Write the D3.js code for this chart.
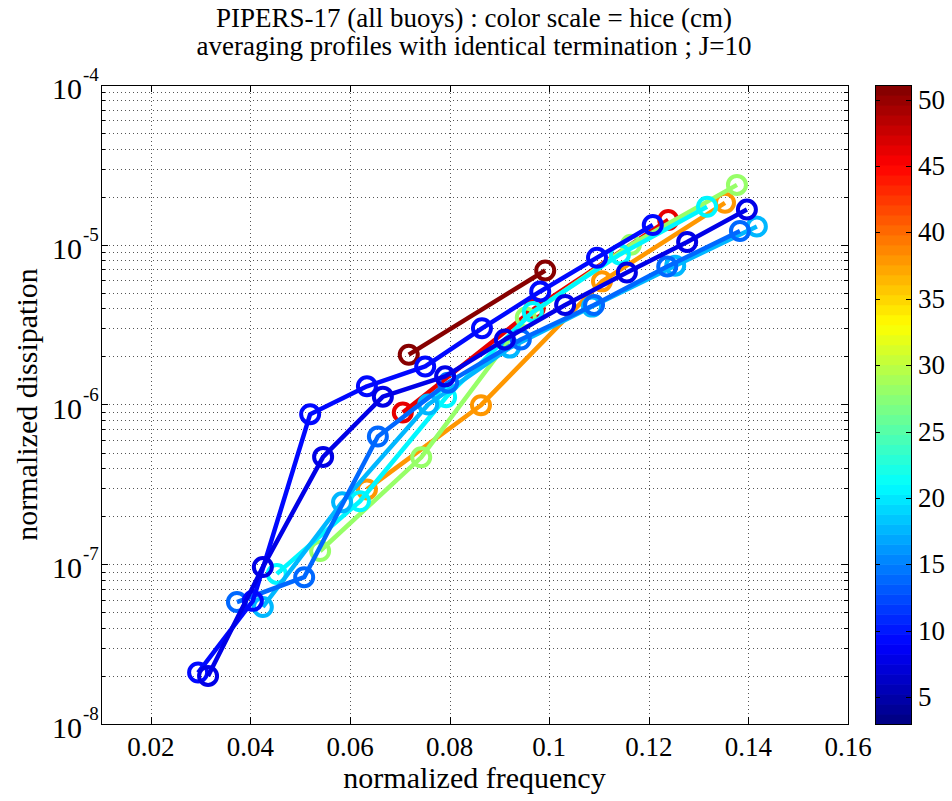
<!DOCTYPE html>
<html>
<head>
<meta charset="utf-8">
<script src="https://cdn.jsdelivr.net/npm/d3@7.9.0/dist/d3.min.js"></script>
<style>
  body { margin: 0; background: #fff; }
  text { font-family: "Liberation Serif", "DejaVu Serif", serif; fill: #000; }
</style>
</head>
<body>
<svg id="chart" width="952" height="801"></svg>
<script>
// hice (cm) of each averaged profile
const hice = [17.5, 14, 20.5, 28, 38, 46, 50.5, 9, 7.5];

// normalized frequency per profile
const freq = [
  [0.0425, 0.0584, 0.0757, 0.0921, 0.1086, 0.1253, 0.1417],
  [0.0373, 0.0508, 0.0656, 0.0797, 0.0943, 0.1090, 0.1237, 0.1383],
  [0.0453, 0.0620, 0.0793, 0.0967, 0.1142, 0.1317],
  [0.0540, 0.0743, 0.0953, 0.1164, 0.1377],
  [0.0634, 0.0863, 0.1106, 0.1353],
  [0.0706, 0.0971, 0.1239],
  [0.0718, 0.0992],
  [0.0295, 0.0405, 0.0520, 0.0634, 0.0751, 0.0865, 0.0982, 0.1096, 0.1208],
  [0.0315, 0.0425, 0.0546, 0.0666, 0.0791, 0.0911, 0.1032, 0.1156, 0.1277, 0.1397]
];

// normalized dissipation per profile
const diss = [
  [5.4e-8, 2.44e-7, 1.0e-6, 2.27e-6, 4.1e-6, 7.4e-6, 1.3e-5],
  [5.8e-8, 8.3e-8, 6.3e-7, 1.37e-6, 2.55e-6, 4.2e-6, 7.3e-6, 1.22e-5],
  [8.7e-8, 2.48e-7, 1.11e-6, 3.8e-6, 8.7e-6, 1.73e-5],
  [1.21e-7, 4.67e-7, 3.5e-6, 1.0e-5, 2.37e-5],
  [2.94e-7, 9.9e-7, 5.9e-6, 1.83e-5],
  [8.9e-7, 4.0e-6, 1.43e-5],
  [2.05e-6, 6.9e-6],
  [2.1e-8, 5.9e-8, 8.7e-7, 1.3e-6, 1.73e-6, 3.0e-6, 5.1e-6, 8.3e-6, 1.33e-5],
  [2.0e-8, 9.6e-8, 4.7e-7, 1.12e-6, 1.5e-6, 2.55e-6, 4.2e-6, 6.7e-6, 1.04e-5, 1.66e-5]
];

// order in which the profiles are drawn (later = on top)
const drawOrder = [4, 5, 3, 2, 6, 0, 1, 7, 8];

const xTicks = [0.02, 0.04, 0.06, 0.08, 0.1, 0.12, 0.14, 0.16];
const yExponents = [-4, -5, -6, -7, -8];
const cbTicks = [5, 10, 15, 20, 25, 30, 35, 40, 45, 50];
const cbDomain = [2.97, 51.1];

const svg = d3.select("#chart");
const margin = { top: 85, left: 101, right: 848, bottom: 724 };

const x = d3.scaleLinear().domain([0.01, 0.16]).range([margin.left, margin.right]);
const y = d3.scaleLog().domain([1e-8, 1e-4]).range([margin.bottom, margin.top]);

// MATLAB jet, 64 levels
function jet(t) {
  const n = 64;
  const i = Math.min(n - 1, Math.max(0, Math.floor(t * n)));
  const v = (i + 0.5) / n;
  const r = Math.min(Math.max(Math.min(4 * v - 1.5, -4 * v + 4.5), 0), 1);
  const g = Math.min(Math.max(Math.min(4 * v - 0.5, -4 * v + 3.5), 0), 1);
  const b = Math.min(Math.max(Math.min(4 * v + 0.5, -4 * v + 2.5), 0), 1);
  return d3.rgb(r * 255, g * 255, b * 255).formatHex();
}
const cScale = d3.scaleLinear().domain(cbDomain).range([0, 1]).clamp(true);
const color = h => jet(cScale(h));

// grid
const grid = svg.append("g").attr("stroke", "#555").attr("stroke-width", 1)
  .attr("stroke-dasharray", "1,3");
xTicks.filter(t => t < 0.16).forEach(t => {
  const px = Math.round(x(t)) + 0.5;
  grid.append("line").attr("x1", px).attr("x2", px)
    .attr("y1", margin.top).attr("y2", margin.bottom);
});
const minorY = [];
for (let e = -8; e < -4; e++) {
  for (let k = 1; k <= 9; k++) {
    if (k === 1 && e === -8) continue;
    minorY.push(k * Math.pow(10, e));
  }
}
minorY.forEach(v => {
  grid.append("line").attr("x1", margin.left).attr("x2", margin.right)
    .attr("y1", Math.round(y(v)) + 0.5).attr("y2", Math.round(y(v)) + 0.5);
});

// data lines and markers
const plot = svg.append("g");
drawOrder.forEach(i => {
  const pts = freq[i].map((f, j) => [f, diss[i][j]]);
  const c = color(hice[i]);
  const g = plot.append("g");
  g.append("path")
    .attr("d", d3.line().x(d => x(d[0])).y(d => y(d[1]))(pts))
    .attr("fill", "none").attr("stroke", c).attr("stroke-width", 4.5)
    .attr("stroke-linejoin", "round");
  g.selectAll("circle").data(pts).join("circle")
    .attr("cx", d => x(d[0])).attr("cy", d => y(d[1])).attr("r", 9)
    .attr("fill", "none").attr("stroke", c).attr("stroke-width", 4);
});

// axes box
svg.append("rect").attr("x", margin.left + 0.5).attr("y", margin.top + 0.5)
  .attr("width", margin.right - margin.left).attr("height", margin.bottom - margin.top)
  .attr("fill", "none").attr("stroke", "#000").attr("stroke-width", 1);

const ticks = svg.append("g").attr("stroke", "#000").attr("stroke-width", 1);
xTicks.forEach(t => {
  const px = Math.round(x(t)) + 0.5;
  ticks.append("line").attr("x1", px).attr("x2", px).attr("y1", margin.bottom).attr("y2", margin.bottom - 7);
  ticks.append("line").attr("x1", px).attr("x2", px).attr("y1", margin.top).attr("y2", margin.top + 7);
});
minorY.concat(yExponents.map(e => Math.pow(10, e))).forEach(v => {
  const py = Math.round(y(v)) + 0.5;
  const len = (Math.abs(Math.log10(v) - Math.round(Math.log10(v))) < 1e-9) ? 7 : 4;
  ticks.append("line").attr("x1", margin.left).attr("x2", margin.left + len).attr("y1", py).attr("y2", py);
  ticks.append("line").attr("x1", margin.right).attr("x2", margin.right - len).attr("y1", py).attr("y2", py);
});

// x tick labels
svg.append("g").selectAll("text").data(xTicks).join("text")
  .attr("x", d => x(d)).attr("y", 756)
  .attr("text-anchor", "middle").attr("font-size", 27)
  .text(d => d3.format("~g")(d));

// y tick labels
yExponents.forEach(e => {
  svg.append("text").attr("x", 82).attr("y", y(Math.pow(10, e)) + 14)
    .attr("text-anchor", "end").attr("font-size", 30).text("10");
  svg.append("text").attr("x", 83).attr("y", y(Math.pow(10, e)) - 4)
    .attr("font-size", 19).text(String(e));
});

// axis labels
svg.append("text").attr("x", (margin.left + margin.right) / 2).attr("y", 788)
  .attr("text-anchor", "middle").attr("font-size", 30).text("normalized frequency");
svg.append("text").attr("transform", `translate(37,${(margin.top + margin.bottom) / 2}) rotate(-90)`)
  .attr("text-anchor", "middle").attr("font-size", 30).text("normalized dissipation");

// title
svg.append("text").attr("x", 474).attr("y", 27).attr("text-anchor", "middle")
  .attr("font-size", 27).text("PIPERS-17 (all buoys) : color scale = hice (cm)");
svg.append("text").attr("x", 474).attr("y", 55).attr("text-anchor", "middle")
  .attr("font-size", 27).text("averaging profiles with identical termination ; J=10");

// colorbar
const cb = { x: 875, w: 36, top: 85, bottom: 724 };
const cbY = d3.scaleLinear().domain(cbDomain).range([cb.bottom, cb.top]);
const nLev = 64;
const levels = d3.range(nLev);
svg.append("g").selectAll("rect").data(levels).join("rect")
  .attr("x", cb.x)
  .attr("y", i => cb.bottom - (i + 1) * (cb.bottom - cb.top) / nLev)
  .attr("width", cb.w)
  .attr("height", (cb.bottom - cb.top) / nLev + 0.6)
  .attr("fill", i => jet((i + 0.5) / nLev));
svg.append("rect").attr("x", cb.x + 0.5).attr("y", cb.top + 0.5)
  .attr("width", cb.w).attr("height", cb.bottom - cb.top)
  .attr("fill", "none").attr("stroke", "#000");
const cbt = svg.append("g").attr("stroke", "#000");
cbTicks.forEach(v => {
  const py = Math.round(cbY(v)) + 0.5;
  cbt.append("line").attr("x1", cb.x).attr("x2", cb.x + 5).attr("y1", py).attr("y2", py);
  cbt.append("line").attr("x1", cb.x + cb.w).attr("x2", cb.x + cb.w - 5).attr("y1", py).attr("y2", py);
});
svg.append("g").selectAll("text").data(cbTicks).join("text")
  .attr("x", cb.x + cb.w + 7).attr("y", d => cbY(d) + 9)
  .attr("font-size", 27).text(d => d);
</script>
</body>
</html>
